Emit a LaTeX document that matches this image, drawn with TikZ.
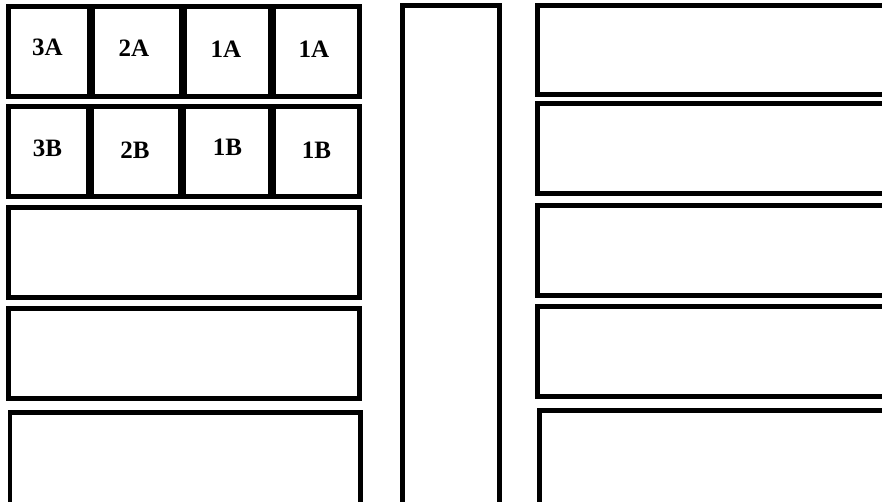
\documentclass[tikz,border=0pt]{standalone}
\usepackage{fontspec}
\setmainfont{Liberation Serif}
\begin{document}
\begin{tikzpicture}[x=1pt,y=-1pt,
    box/.style={draw, line width=4.8pt},
    lbl/.style={inner sep=0pt, font=\fontsize{25}{30}\selectfont\bfseries}]
    \useasboundingbox (0,0) rectangle (882,501);
    \clip (0,0) rectangle (882,501);
    % first row of cells
    \draw[box] (8.4,6.4) rectangle (89.5,96.6);
    \draw[box] (92.5,6.4) rectangle (181.5,96.6);
    \draw[box] (184.5,6.4) rectangle (270.5,96.6);
    \draw[box] (273.5,6.4) rectangle (359.6,96.6);
    \node[lbl] (l3A) at (47.5,47.5) {3A};
    \node[lbl] (l2A) at (134,48) {2A};
    \node[lbl] (l1A) at (226,49) {1A};
    \node[lbl] (l1Ab) at (314,49) {1A};
    % second row of cells
    \draw[box] (8.4,106.4) rectangle (88.5,196.6);
    \draw[box] (91.5,106.4) rectangle (180.5,196.6);
    \draw[box] (183.5,106.4) rectangle (270.5,196.6);
    \draw[box] (273.5,106.4) rectangle (359.6,196.6);
    \node[lbl] (l3B) at (47.5,148) {3B};
    \node[lbl] (l2B) at (135,150) {2B};
    \node[lbl] (l1B) at (227.5,147) {1B};
    \node[lbl] (l1Bb) at (316.5,150) {1B};
    % empty rows on the left
    \draw[box] (8.4,207.4) rectangle (359.6,297.6);
    \draw[box] (8.4,308.4) rectangle (359.6,398.6);
    \draw[box] (9.9,412.4) rectangle (360.6,510);
    % tall middle bar
    \draw[box] (402.4,5.4) rectangle (499.6,510);
    % rows on the right
    \draw[box] (537.4,5.4) rectangle (895,94.6);
    \draw[box] (537.4,103.4) rectangle (895,193.6);
    \draw[box] (537.4,205.4) rectangle (895,295.6);
    \draw[box] (537.4,306.4) rectangle (895,396.6);
    \draw[box] (539.4,410.4) rectangle (895,510);
  \end{tikzpicture}
\end{document}
